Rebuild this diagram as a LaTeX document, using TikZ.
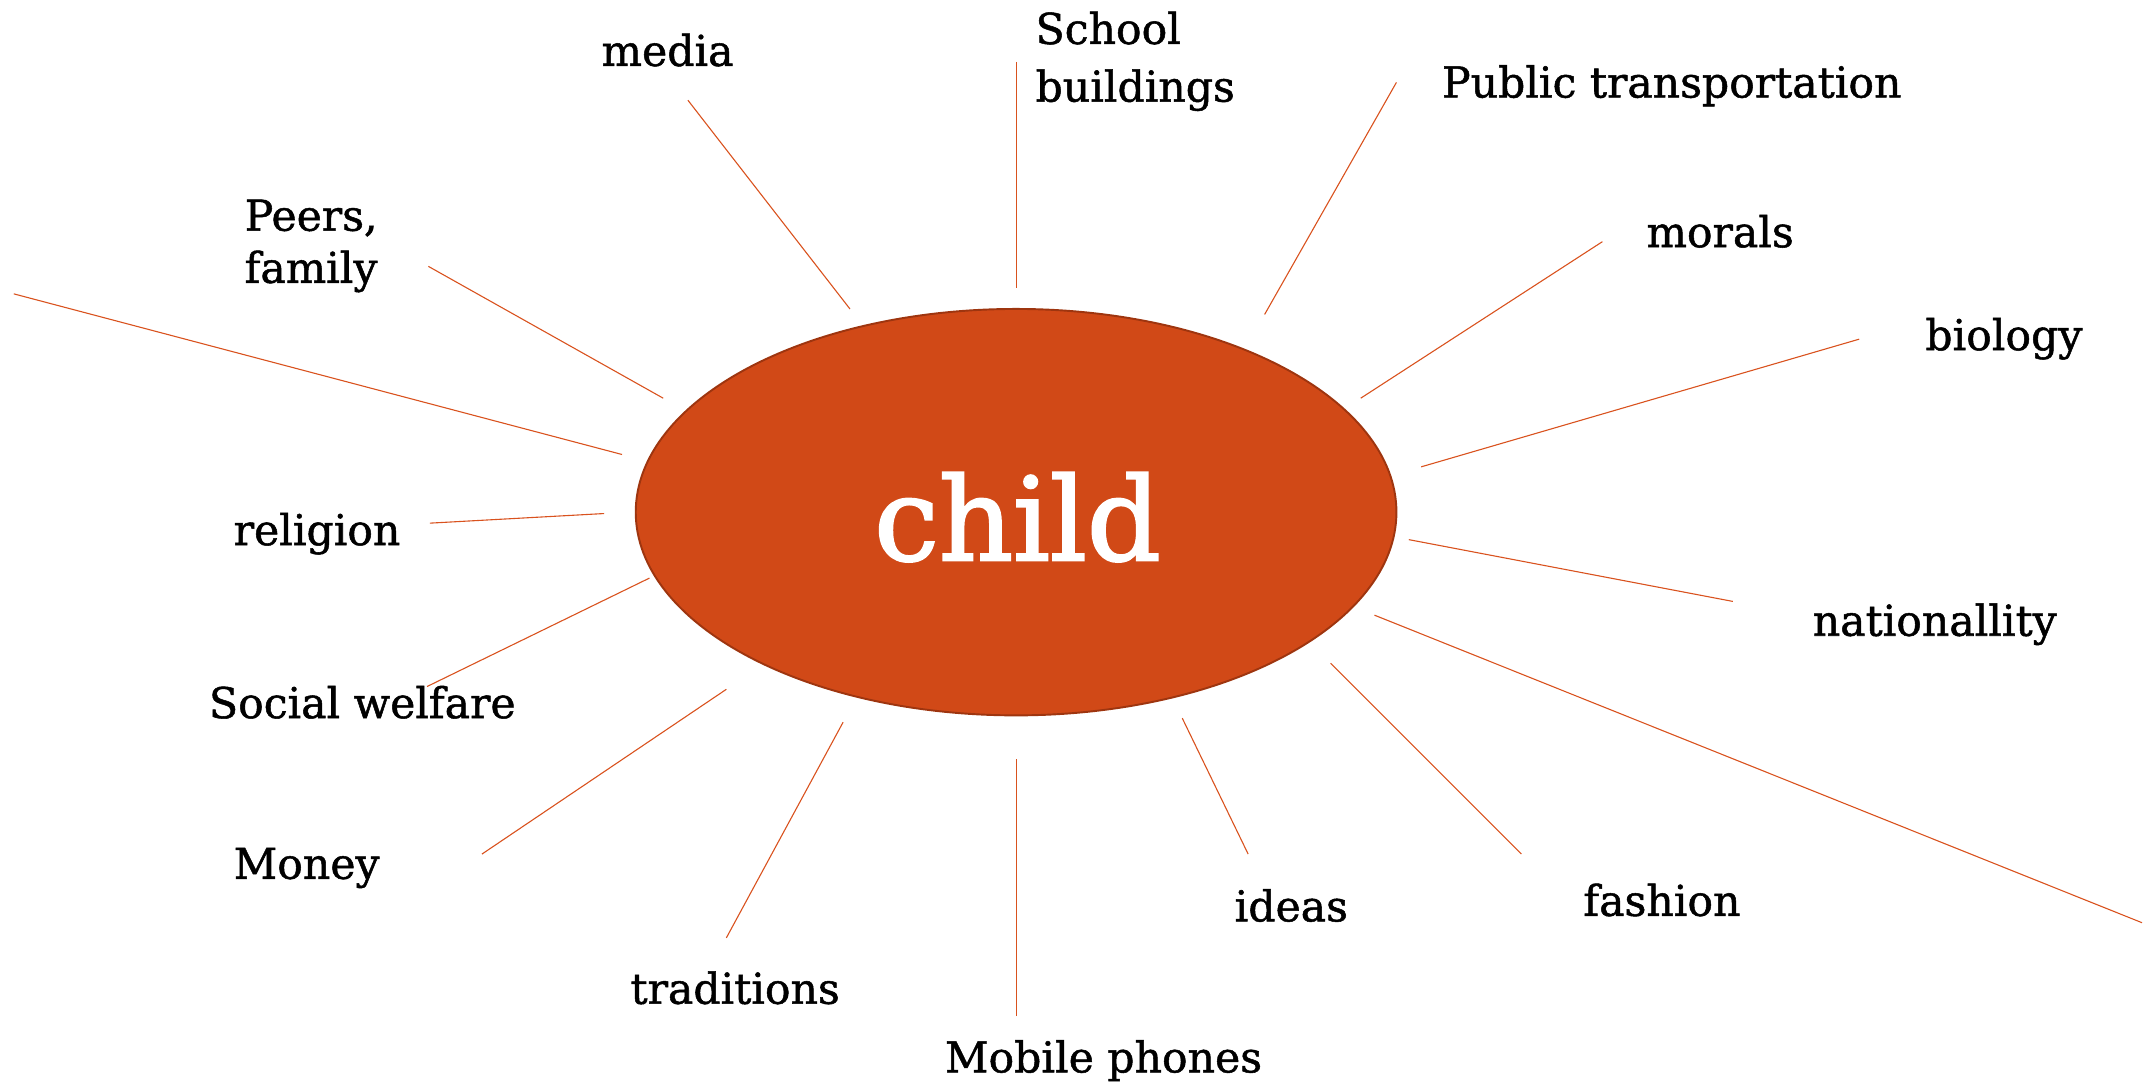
\documentclass[tikz,border=0pt]{standalone}
\usetikzlibrary{shapes.geometric}
\usepackage{fontspec}
\setmainfont{DejaVu Serif}
\newfontfamily\labfont[FakeBold=1.2]{DejaVu Serif}
\newfontfamily\childfont[FakeBold=2]{DejaVu Serif}
\definecolor{childfill}{HTML}{D14917}
\definecolor{childborder}{HTML}{9E350F}
\definecolor{spoke}{HTML}{D9521E}
\begin{document}
\begin{tikzpicture}[x=1pt,y=-1pt,
  lab/.style={anchor=base west,inner sep=0pt,font=\labfont\fontsize{31}{40}\selectfont,text=black,align=left},
  spokeline/.style={draw=spoke,line width=0.8pt}]
\useasboundingbox (0,0) rectangle (1568,792.4);
\node[ellipse,draw=childborder,line width=1.4pt,fill=childfill,minimum width=554pt,minimum height=296pt,inner sep=0pt] (child) at (740,373) {};
\node[anchor=base,inner sep=0pt,text=white,font=\childfont\fontsize{84}{90}\selectfont] (childtext) at (741,408) {child};
% labels
\node[lab] (media) at (438,48) {media};
\node[lab,font=\labfont\fontsize{31}{42}\selectfont] (school) at (754,74) {School\\buildings};
\node[lab] (public) at (1050,71) {Public transportation};
\node[lab,font=\labfont\fontsize{31}{38}\selectfont] (peers) at (178,206) {Peers,\\family};
\node[lab] (morals) at (1199,180) {morals};
\node[lab] (biology) at (1402,255) {biology};
\node[lab] (religion) at (170,397) {religion};
\node[lab] (nation) at (1320,463) {nationallity};
\node[lab] (social) at (152,523) {Social welfare};
\node[lab] (money) at (170,640) {Money};
\node[lab] (ideas) at (899,671) {ideas};
\node[lab] (fashion) at (1153,667) {fashion};
\node[lab] (trad) at (459,731) {traditions};
\node[lab] (mobile) at (688,781) {Mobile phones};
% spoke end points
\coordinate (a1) at (501,73);   \coordinate (b1) at (619,225);
\coordinate (a2) at (740,45);   \coordinate (b2) at (740,210);
\coordinate (a3) at (1017,60);  \coordinate (b3) at (921,229);
\coordinate (a4) at (1167,176); \coordinate (b4) at (991,290);
\coordinate (a5) at (1354,247); \coordinate (b5) at (1035,340);
\coordinate (a6) at (1262,438); \coordinate (b6) at (1026,393);
\coordinate (a7) at (1560,672); \coordinate (b7) at (1001,448);
\coordinate (a8) at (1108,622); \coordinate (b8) at (969,483);
\coordinate (a9) at (909,622);  \coordinate (b9) at (861,523);
\coordinate (a10) at (740,740); \coordinate (b10) at (740,553);
\coordinate (a11) at (529,683); \coordinate (b11) at (614,526);
\coordinate (a12) at (351,622); \coordinate (b12) at (529,502);
\coordinate (a13) at (311,500); \coordinate (b13) at (473,421);
\coordinate (a14) at (313,381); \coordinate (b14) at (440,374);
\coordinate (a15) at (10,214);  \coordinate (b15) at (453,331);
\coordinate (a16) at (312,194); \coordinate (b16) at (483,290);
\foreach \i in {1,...,16} \draw[spokeline] (a\i) -- (b\i);
\end{tikzpicture}
\end{document}
